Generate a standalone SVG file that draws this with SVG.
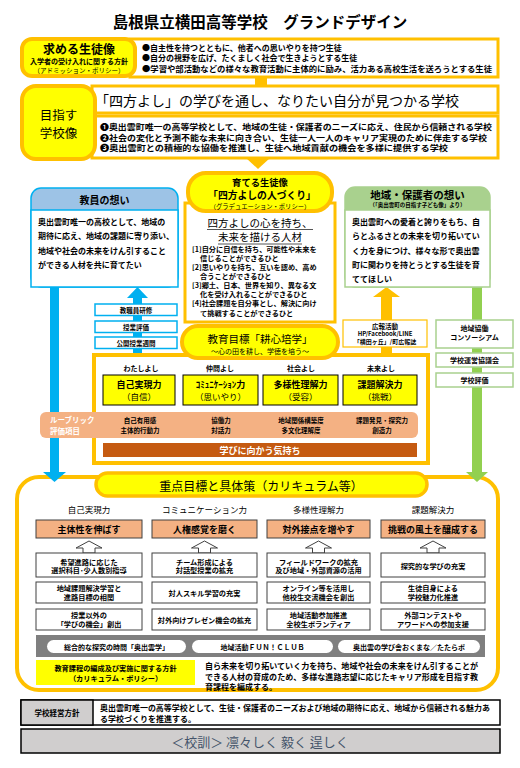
<svg xmlns="http://www.w3.org/2000/svg" width="520" height="768" viewBox="0 0 520 768">
<defs>
<style>
text{font-family:"Noto Sans CJK JP","Noto Sans",sans-serif;dominant-baseline:central;fill:#000}
.c{text-anchor:middle}
.b{font-weight:bold}
.w{fill:#fff}
.or{fill:#fff;stroke:#ffc000;stroke-width:3}
.yl{fill:#ffff00;stroke:#ffc000;stroke-width:4}
.bx{fill:#fff;stroke:#404040;stroke-width:1}
.sal{fill:#f4b183;stroke:#404040;stroke-width:1}
.ybx{fill:#ffff00;stroke:#000;stroke-width:1}
.bl{fill:#fff;stroke:#00b0f0;stroke-width:1.5}
.gr{fill:#fff;stroke:#a9d18e;stroke-width:1.5}
.pill{fill:#fff;stroke:none}
.f6{font-size:6px}.f65{font-size:6.5px}.f7{font-size:7px}.f72{font-size:7.2px}.f75{font-size:7.5px}.f8{font-size:8px}.f85{font-size:8.5px}.f9{font-size:9px}.f10{font-size:10px}.f105{font-size:10.5px}.f11{font-size:11px}.f12{font-size:12px}.f13{font-size:13px}.f14{font-size:14px}
</style>
<path id="ua" d="M0,0 L13,7 L6,7 L6,12 L-6,12 L-6,7 L-13,7 Z" fill="#fff" stroke="#404040" stroke-width="1"/>
</defs>
<rect x="0" y="0" width="520" height="768" fill="#fff"/>

<text id="title" x="260" y="21" class="c b" style="font-size:15.5px">島根県立横田高等学校　グランドデザイン</text>

<!-- Row 5 frame drawn first so arrows overlap it -->
<g id="focus-frame">
<rect x="17" y="477" width="481" height="213" rx="22" fill="#fff" stroke="#ffc000" stroke-width="4"/>
</g>

<g id="connectors">
<rect x="255" y="77" width="12" height="10" fill="#ffc000"/>
<polygon points="246,158 270,158 258,169" fill="#ffc000"/>
<rect x="50" y="287" width="9" height="186" fill="#00b0f0"/>
<polygon points="43,472 66,472 54.5,482" fill="#00b0f0"/>
<rect x="133" y="297" width="9" height="57" fill="#00b0f0"/>
<polygon points="127,298 148,298 137.5,287" fill="#00b0f0"/>
<rect x="381" y="296" width="11" height="58" fill="#ffc000"/>
<polygon points="373,297 400,297 386.5,287" fill="#ffc000"/>
<rect x="472" y="287" width="10" height="186" fill="#92d050"/>
<polygon points="466,472 488,472 477,482" fill="#92d050"/>
<use href="#ua" x="89" y="541"/>
<use href="#ua" x="204.5" y="541"/>
<use href="#ua" x="318.5" y="541"/>
<use href="#ua" x="433" y="541"/>
</g>

<g id="admission">
<rect x="130" y="39" width="368" height="38" class="or"/>
<rect x="22" y="39" width="113" height="37" rx="10" class="yl"/>
<text x="79" y="48" class="c b f12">求める生徒像</text>
<text x="79" y="60.5" class="c b f7">入学者の受け入れに関する方針</text>
<text x="79" y="69.5" class="c" style="font-size:6.5px">（アドミッション・ポリシー）</text>
<text x="142" y="47" class="b f8">●自主性を持つとともに、他者への思いやりを持つ生徒</text>
<text x="142" y="57.5" class="b f8">●自分の視野を広げ、たくましく社会で生きようとする生徒</text>
<text x="142" y="68" class="b f8" textLength="350" lengthAdjust="spacingAndGlyphs">●学習や部活動などの様々な教育活動に主体的に励み、活力ある高校生活を送ろうとする生徒</text>
</g>

<g id="school-vision">
<rect x="92" y="86" width="406" height="27" class="or"/>
<rect x="92" y="116" width="406" height="42" class="or"/>
<rect x="22" y="86" width="73" height="73" rx="14" class="yl"/>
<text x="58.5" y="114" class="c" style="font-size:12.5px">目指す</text>
<text x="58.5" y="132" class="c" style="font-size:12.5px">学校像</text>
<text x="277" y="100" class="c f14">「四方よし」の学びを通し、なりたい自分が見つかる学校</text>
<text x="100" y="126.5" class="b f8" textLength="392" lengthAdjust="spacingAndGlyphs">❶奥出雲町唯一の高等学校として、地域の生徒・保護者のニーズに応え、住民から信頼される学校</text>
<text x="100" y="137" class="b f8" textLength="387" lengthAdjust="spacingAndGlyphs">❷社会の変化と予測不能な未来に向き合い、生徒一人一人のキャリア実現のために伴走する学校</text>
<text x="100" y="147.5" class="b f8" textLength="348" lengthAdjust="spacingAndGlyphs">❸奥出雲町との積極的な協働を推進し、生徒へ地域貢献の機会を多様に提供する学校</text>
</g>

<g id="teacher-wish">
<rect x="31" y="188" width="147" height="99" rx="10" fill="#9dc3e6" stroke="#00b0f0" stroke-width="1.5"/>
<rect x="31" y="210" width="147" height="77" fill="#fff" stroke="#00b0f0" stroke-width="1.5"/>
<text x="104.5" y="199" class="c b f10">教員の想い</text>
<text x="38" y="221" class="b f8">奥出雲町唯一の高校として、地域の</text>
<text x="38" y="235.5" class="b f8">期待に応え、地域の課題に寄り添い、</text>
<text x="38" y="250" class="b f8">地域や社会の未来をけん引すること</text>
<text x="38" y="264" class="b f8">ができる人材を共に育てたい</text>
</g>

<g id="graduate-image">
<rect x="185" y="203" width="150" height="119" class="or"/>
<rect x="188" y="173" width="144" height="38" rx="18" class="yl"/>
<text x="260" y="181.5" class="c b" style="font-size:9.3px">育てる生徒像</text>
<text x="262" y="195" class="c b" style="font-size:9.8px">「四方よしの人づくり」</text>
<text x="260" y="206" class="c" style="font-size:6.3px">（グラデュエーション・ポリシー）</text>
<text x="260" y="222" class="c f105">四方よしの心を持ち、</text>
<line x1="207" y1="229.5" x2="313" y2="229.5" stroke="#555" stroke-width="1"/>
<text x="260" y="236.5" class="c f105">未来を描ける人材</text>
<line x1="218" y1="244" x2="302" y2="244" stroke="#555" stroke-width="1"/>
<text x="192" y="249" class="b f72">[1]自分に自信を持ち、可能性や未来を</text>
<text x="200" y="258" class="b f72">信じることができるひと</text>
<text x="192" y="267" class="b f72">[2]思いやりを持ち、互いを認め、高め</text>
<text x="200" y="276" class="b f72">合うことができるひと</text>
<text x="192" y="285" class="b f72">[3]郷土、日本、世界を知り、異なる文</text>
<text x="200" y="294" class="b f72">化を受け入れることができるひと</text>
<text x="192" y="303" class="b f72">[4]社会課題を自分事とし、解決に向け</text>
<text x="200" y="312.5" class="b f72">て挑戦することができるひと</text>
</g>

<g id="community-wish">
<rect x="345" y="187" width="145" height="100" rx="10" fill="#a9d18e" stroke="#a9d18e" stroke-width="1.5"/>
<rect x="345" y="210" width="145" height="77" class="gr"/>
<text x="417.5" y="194" class="c b f105">地域・保護者の想い</text>
<text x="417.5" y="204.5" class="c b" style="font-size:5.5px">（「奥出雲町の目指す子ども像」より）</text>
<text x="352" y="221" class="b f8">奥出雲町への愛着と誇りをもち、自</text>
<text x="352" y="235.5" class="b f8">らとふるさとの未来を切り拓いてい</text>
<text x="352" y="250" class="b f8">く力を身につけ、様々な形で奥出雲</text>
<text x="352" y="264" class="b f8">町に関わりを持とうとする生徒を育</text>
<text x="352" y="278" class="b f8">ててほしい</text>
</g>

<g id="teacher-activities">
<rect x="95" y="304" width="82" height="11.5" class="bl"/>
<text x="136" y="310" class="c b f65">教職員研修</text>
<rect x="95" y="321" width="82" height="11.5" class="bl"/>
<text x="136" y="327" class="c b f65">授業評価</text>
<rect x="95" y="337" width="82" height="11.5" class="bl"/>
<text x="136" y="343" class="c b f65">公開授業週間</text>
</g>

<g id="pr">
<rect x="343" y="320" width="84" height="27" fill="#fff" stroke="#ffc000" stroke-width="1.2"/>
<text x="385" y="325.5" class="c b f65">広報活動</text>
<text x="385" y="333.5" class="c b f6">HP/Facebook/LINE</text>
<text x="385" y="341" class="c b f6">「横田ヶ丘」/町広報誌</text>
</g>

<g id="community-activities">
<rect x="436" y="320" width="77" height="28" class="gr"/>
<text x="474.5" y="327.5" class="c b f7">地域協働</text>
<text x="474.5" y="337" class="c b f7">コンソーシアム</text>
<rect x="436" y="353" width="77" height="14" class="gr"/>
<text x="474.5" y="360" class="c b f7">学校運営協議会</text>
<rect x="436" y="373" width="77" height="14" class="gr"/>
<text x="474.5" y="380" class="c b f7">学校評価</text>
</g>

<g id="education-goal">
<rect x="94" y="355" width="334" height="108" class="or" style="stroke-width:4"/>
<rect x="40" y="412" width="378" height="26" rx="6" fill="#f4b183"/>
<rect x="103" y="443" width="314" height="14" fill="#c55a11"/>
<rect x="182" y="326" width="156" height="32" rx="16" class="yl"/>
<text x="260" y="338" class="c" style="font-size:10.5px">教育目標「耕心培学」</text>
<text x="260" y="351" class="c f7">〜心の田を耕し、学徳を培う〜</text>
<text x="141" y="368" class="c b f7">わたしよし</text>
<text x="220" y="368" class="c b f7">仲間よし</text>
<text x="301" y="368" class="c b f7">社会よし</text>
<text x="381" y="368" class="c b f7">未来よし</text>
<rect x="103" y="375" width="72" height="30" class="ybx"/>
<rect x="183" y="375" width="75" height="30" class="ybx"/>
<rect x="263" y="375" width="75" height="30" class="ybx"/>
<rect x="343" y="375" width="74" height="30" class="ybx"/>
<text x="139" y="384.5" class="c b f9">自己実現力</text>
<text x="139" y="396" class="c f85">（自信）</text>
<text x="220.5" y="384.5" class="c b f9">ｺﾐｭﾆｹｰｼｮﾝ力</text>
<text x="220.5" y="396" class="c f85">（思いやり）</text>
<text x="300.5" y="384.5" class="c b f9">多様性理解力</text>
<text x="300.5" y="396" class="c f85">（受容）</text>
<text x="380" y="384.5" class="c b f9">課題解決力</text>
<text x="380" y="396" class="c f85">（挑戦）</text>
<text x="50" y="419.5" class="b w f75">ルーブリック</text>
<text x="50" y="430" class="b w f75">評価項目</text>
<text x="140" y="419.5" class="c b f65">自己有用感</text>
<text x="140" y="430" class="c b f65">主体的行動力</text>
<text x="221" y="419.5" class="c b f65">協働力</text>
<text x="221" y="430" class="c b f65">対話力</text>
<text x="301" y="419.5" class="c b f65">地域関係構築度</text>
<text x="301" y="430" class="c b f65">多文化理解度</text>
<text x="382" y="419.5" class="c b f65">課題発見・探究力</text>
<text x="382" y="430" class="c b f65">創造力</text>
<text x="260" y="450" class="c b w f9">学びに向かう気持ち</text>
</g>

<g id="focus-goals">
<rect x="96" y="473" width="331" height="23" rx="11.5" fill="#ffff00" stroke="#ffc000" stroke-width="3.5"/>
<text x="261" y="485" class="c f12">重点目標と具体策（カリキュラム等）</text>
<text x="89" y="509" class="c f85">自己実現力</text>
<text x="204.5" y="509" class="c f85">コミュニケーション力</text>
<text x="318.5" y="509" class="c f85">多様性理解力</text>
<text x="433" y="509" class="c f85">課題解決力</text>
<rect x="36" y="520" width="106" height="18" class="sal"/>
<rect x="152" y="520" width="105" height="18" class="sal"/>
<rect x="267" y="520" width="103" height="18" class="sal"/>
<rect x="381" y="520" width="104" height="18" class="sal"/>
<text x="89" y="529" class="c b f9">主体性を伸ばす</text>
<text x="204.5" y="529" class="c b f9">人権感覚を磨く</text>
<text x="318.5" y="529" class="c b f9">対外接点を増やす</text>
<text x="433" y="529" class="c b f9">挑戦の風土を醸成する</text>
<rect x="36" y="553" width="106" height="24" class="bx"/>
<rect x="152" y="553" width="105" height="24" class="bx"/>
<rect x="267" y="553" width="103" height="24" class="bx"/>
<rect x="381" y="553" width="104" height="24" class="bx"/>
<rect x="36" y="582" width="106" height="21" class="bx"/>
<rect x="152" y="582" width="105" height="21" class="bx"/>
<rect x="267" y="582" width="103" height="21" class="bx"/>
<rect x="381" y="582" width="104" height="21" class="bx"/>
<rect x="36" y="609" width="106" height="21" class="bx"/>
<rect x="152" y="609" width="105" height="21" class="bx"/>
<rect x="267" y="609" width="103" height="21" class="bx"/>
<rect x="381" y="609" width="104" height="21" class="bx"/>
<text x="89" y="561.5" class="c b f72">希望進路に応じた</text>
<text x="89" y="570" class="c b f72">選択科目･少人数別指導</text>
<text x="89" y="588" class="c b f72">地域課題解決学習と</text>
<text x="89" y="596.5" class="c b f72">進路目標の相関</text>
<text x="89" y="615" class="c b f72">授業以外の</text>
<text x="89" y="623.5" class="c b f72">「学びの機会」創出</text>
<text x="204.5" y="561.5" class="c b f72">チーム形成による</text>
<text x="204.5" y="570" class="c b f72">対話型授業の拡充</text>
<text x="204.5" y="592.5" class="c b f72">対人スキル学習の充実</text>
<text x="204.5" y="619.5" class="c b f72">対外向けプレゼン機会の拡充</text>
<text x="318.5" y="561.5" class="c b f72">フィールドワークの拡充</text>
<text x="318.5" y="570" class="c b f72">及び地域・外部資源の活用</text>
<text x="318.5" y="588" class="c b f72">オンライン等を活用し</text>
<text x="318.5" y="596.5" class="c b f72">他校生交流機会を創出</text>
<text x="318.5" y="615" class="c b f72">地域活動参加推進</text>
<text x="318.5" y="623.5" class="c b f72">全校生ボランティア</text>
<text x="433" y="565.5" class="c b f72">探究的な学びの充実</text>
<text x="433" y="588" class="c b f72">生徒自身による</text>
<text x="433" y="596.5" class="c b f72">学校魅力化推進</text>
<text x="433" y="615" class="c b f72">外部コンテストや</text>
<text x="433" y="623.5" class="c b f72">アワードへの参加支援</text>
<rect x="36" y="635" width="449" height="22" fill="#7f7f7f"/>
<rect x="47" y="640" width="139" height="13" rx="6.5" class="pill"/>
<rect x="192" y="640" width="141" height="13" rx="6.5" class="pill"/>
<rect x="338" y="640" width="142" height="13" rx="6.5" class="pill"/>
<text x="116.5" y="646.5" class="c b f7">総合的な探究の時間「奥出雲学」</text>
<text x="262.5" y="646.5" class="c b f7">地域活動ＦＵＮ！ＣＬＵＢ</text>
<text x="409" y="646.5" class="c b f7">奥出雲の学び舎おくまな／たたらボ</text>
<rect x="36" y="660" width="159" height="25" fill="#ffff00"/>
<text x="115.5" y="668" class="c b f72">教育課程の編成及び実施に関する方針</text>
<text x="115.5" y="678" class="c b f72">（カリキュラム・ポリシー）</text>
<text x="205" y="665.5" class="b f8" textLength="273" lengthAdjust="spacingAndGlyphs">自ら未来を切り拓いていく力を持ち、地域や社会の未来をけん引することが</text>
<text x="205" y="676" class="b f8" textLength="273" lengthAdjust="spacingAndGlyphs">できる人材の育成のため、多様な進路志望に応じたキャリア形成を目指す教</text>
<text x="205" y="686.5" class="b f8">育課程を編成する。</text>
</g>

<g id="management">
<rect x="21" y="700" width="479" height="25" fill="#fff" stroke="#000" stroke-width="1.5"/>
<rect x="21" y="700" width="72" height="25" fill="#d0cece" stroke="#000" stroke-width="1.5"/>
<text x="57" y="712.5" class="c b f75">学校経営方針</text>
<text x="100" y="707.5" class="b f8" textLength="390" lengthAdjust="spacingAndGlyphs">奥出雲町唯一の高等学校として、生徒・保護者のニーズおよび地域の期待に応え、地域から信頼される魅力あ</text>
<text x="100" y="718.5" class="b f8">る学校づくりを推進する。</text>
</g>

<g id="motto">
<rect x="21" y="729" width="479" height="24" fill="#d0cece" stroke="#000" stroke-width="1.5"/>
<text x="260" y="741.5" class="c f13" style="fill:#44546a">＜校訓＞ 凛々しく 毅く 逞しく</text>
</g>
</svg>
